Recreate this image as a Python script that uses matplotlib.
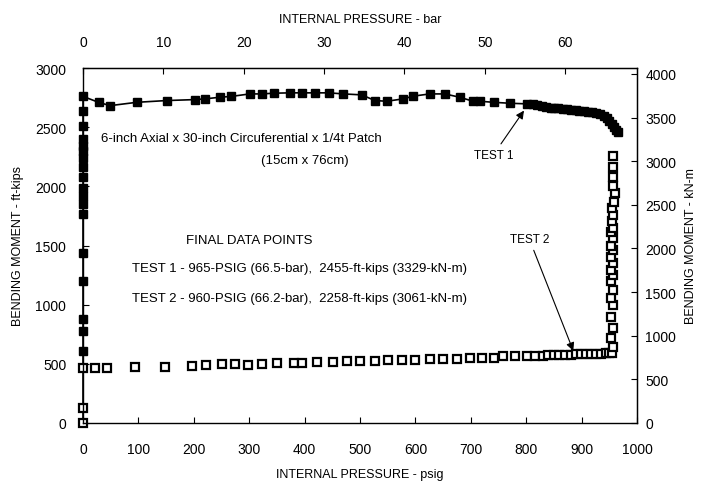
import matplotlib
matplotlib.use("Agg")
import matplotlib.pyplot as plt

# Test 1 (filled squares, connected), psig vs ft-kips
test1_psi = [0, 0, 0, 0, 0, 0, 0, 0, 0, 0, 0, 0, 0, 0, 0, 0, 0, 0, 0,
             28, 49, 97, 151, 202, 220, 247, 268, 301, 323, 344, 374, 395,
             419, 444, 470, 503, 527, 548, 578, 596, 626, 653, 680, 704,
             717, 741, 771, 801, 812, 819, 828, 836, 844, 851, 858, 866,
             874, 881, 889, 896, 904, 911, 919, 926, 934, 941, 946, 950,
             955, 959, 962, 965]
test1_mom = [0, 610, 780, 880, 1200, 1440, 1770, 1850, 1920, 1990, 2080,
             2160, 2240, 2300, 2340, 2400, 2510, 2640, 2760,
             2710, 2682, 2710, 2725, 2733, 2739, 2753, 2760, 2781, 2781,
             2787, 2790, 2790, 2790, 2790, 2781, 2773, 2725, 2719, 2739,
             2762, 2781, 2781, 2753, 2719, 2719, 2710, 2702, 2697, 2693,
             2690, 2680, 2668, 2665, 2662, 2658, 2654, 2650, 2647, 2643,
             2640, 2635, 2630, 2625, 2620, 2610, 2598, 2580, 2555, 2525,
             2500, 2475, 2455]

# Test 2 (open squares)
test2_psi = [0, 0, 0, 22, 43, 94, 148, 196, 222, 250, 274, 298, 323, 350,
             380, 395, 422, 452, 476, 500, 527, 551, 575, 599, 626, 650,
             675, 699, 720, 741, 759, 780, 801, 815, 830, 840, 850, 860,
             870, 880, 890, 899, 908, 917, 926, 935, 944, 950, 955, 957,
             953, 957, 953, 957, 953, 957, 953, 957, 953, 957, 953, 957,
             953, 957, 953, 957, 955, 957, 955, 958, 960]
test2_mom = [0, 130, 465, 462, 462, 471, 471, 479, 490, 499, 499, 490,
             499, 507, 507, 507, 513, 516, 520, 523, 525, 530, 532, 535,
             538, 540, 543, 547, 550, 553, 564, 565, 568, 569, 570, 572,
             573, 574, 576, 577, 579, 580, 582, 583, 585, 586, 588, 589,
             590, 640, 720, 800, 900, 1000, 1060, 1120, 1200, 1250, 1290,
             1350, 1400, 1460, 1500, 1560, 1610, 1650, 1710, 1760, 1820,
             1870, 1940, 2000, 2080, 2160, 2258]
test2_psi = test2_psi + [957] * (len(test2_mom) - len(test2_psi))

PSI_PER_BAR = 14.5038
KNM_PER_FTKIP = 1.35582

font = "Liberation Sans"
plt.rcParams['font.family'] = [font, 'DejaVu Sans']

fig = plt.figure(figsize=(7.06, 4.85), dpi=100)
ax = fig.add_axes([83 / 706, 1 - 424 / 485, (637 - 83) / 706, (424 - 69) / 485])

ax.plot(test1_psi, test1_mom, color="black", lw=1.2, marker="s", ms=6,
        markevery=slice(1, None), mfc="black", mec="black", clip_on=False)
ax.plot(test2_psi, test2_mom, ls="none", marker="s", ms=5.5, mfc="white",
        mec="black", mew=1.6, clip_on=False)

ax.set_xlim(0, 1000)
ax.set_ylim(0, 3000)
ax.set_xticks(range(0, 1001, 100))
ax.set_yticks(range(0, 3001, 500))
ax.tick_params(axis="x", direction="in", length=4, labelsize=10, width=0.8,
               pad=14)
ax.tick_params(axis="y", direction="in", length=4, labelsize=10, width=0.8,
               pad=12)
ax.set_xlabel("INTERNAL PRESSURE - psig", fontsize=9, labelpad=8)
ax.set_ylabel("BENDING MOMENT - ft-kips", fontsize=9, labelpad=8)

top = ax.secondary_xaxis("top", functions=(lambda p: p / PSI_PER_BAR,
                                           lambda b: b * PSI_PER_BAR))
top.set_xticks(range(0, 61, 10))
top.tick_params(direction="in", length=4, labelsize=10, pad=14)
top.set_xlabel("INTERNAL PRESSURE - bar", fontsize=9, labelpad=9)

right = ax.secondary_yaxis("right", functions=(lambda m: m * KNM_PER_FTKIP,
                                               lambda k: k / KNM_PER_FTKIP))
right.set_yticks(range(0, 4001, 500))
right.tick_params(direction="in", length=4, labelsize=10, pad=6)
right.set_ylabel("BENDING MOMENT - kN-m", fontsize=9, labelpad=6)

for s in ax.spines.values():
    s.set_linewidth(1.0)

ax.text(32, 2385, "6-inch Axial x 30-inch Circuferential x 1/4t Patch",
        fontsize=9.5)
ax.text(400, 2195, "(15cm x 76cm)", fontsize=9.5, ha="center")

ax.text(300, 1520, "FINAL DATA POINTS", fontsize=9.5, ha="center")
ax.text(88, 1285, "TEST 1 - 965-PSIG (66.5-bar),  2455-ft-kips (3329-kN-m)",
        fontsize=9.5)
ax.text(88, 1030, "TEST 2 - 960-PSIG (66.2-bar),  2258-ft-kips (3061-kN-m)",
        fontsize=9.5)

ax.annotate("TEST 1", xy=(796, 2640), xytext=(705, 2240), fontsize=8.5,
            arrowprops=dict(arrowstyle="-|>", color="black", lw=0.8,
                            shrinkA=2, shrinkB=0, mutation_scale=12))
ax.annotate("TEST 2", xy=(885, 610), xytext=(770, 1530), fontsize=8.5,
            arrowprops=dict(arrowstyle="-|>", color="black", lw=0.8,
                            shrinkA=2, shrinkB=0, mutation_scale=12))

fig.savefig("out.png", dpi=100)
